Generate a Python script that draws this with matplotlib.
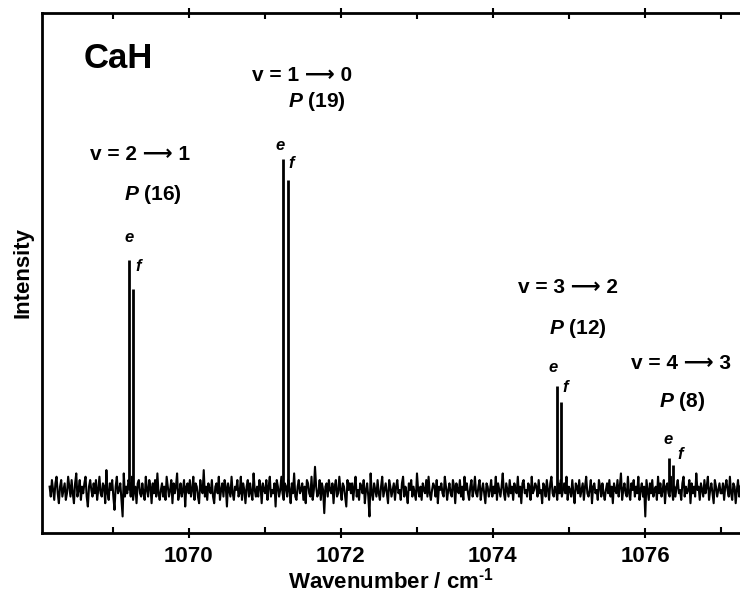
import numpy as np
import matplotlib
matplotlib.use("Agg")
import matplotlib.pyplot as plt
from matplotlib.ticker import MultipleLocator

plt.rcParams['font.family'] = ['Liberation Sans', 'DejaVu Sans']
plt.rcParams['font.weight'] = 'bold'
plt.rcParams['axes.labelweight'] = 'bold'
plt.rcParams['mathtext.fontset'] = 'custom'
plt.rcParams['mathtext.rm'] = 'Liberation Sans:bold'
plt.rcParams['mathtext.bf'] = 'Liberation Sans:bold'
plt.rcParams['mathtext.it'] = 'Liberation Sans:bold:italic'

# peak positions (cm-1) and heights (relative intensity), e and f components
peak_e_pos = [1069.21, 1071.24, 1074.84, 1076.32]
peak_f_pos = [1069.27, 1071.30, 1074.90, 1076.37]
peak_e_h = [0.695, 1.000, 0.314, 0.097]
peak_f_h = [0.607, 0.937, 0.266, 0.076]
band_labels = ["v = 2 \u27f6 1", "v = 1 \u27f6 0", "v = 3 \u27f6 2", "v = 4 \u27f6 3"]
line_labels = [r"$P$ (16)", r"$P$ (19)", r"$P$ (12)", r"$P$ (8)"]

# baseline noise, in units of 0.01 intensity
x_start, x_end = 1068.17, 1077.30
noise = [
    1,-2,3,0,-3,2,4,-1,-4,1,3,-2,0,2,-3,-1,4,1,-2,3,
    -1,-4,2,5,-2,0,3,-3,1,-1,2,4,-2,-5,1,3,0,-2,2,-1,
    3,-3,0,4,-1,-2,2,1,-4,6,-1,-3,2,0,3,-2,-6,1,4,-1,
    0,2,-3,-8,5,-2,1,-1,3,2,-2,4,-3,0,1,-4,2,3,-1,-2,
    2,-1,-3,4,0,-2,3,1,-4,2,-1,3,-2,5,-1,-3,0,2,-2,1,
    -3,4,1,-2,0,3,-4,2,-1,1,5,-3,-1,2,-2,0,3,-5,1,2,
    -1,3,-2,0,4,-3,2,1,-2,-4,3,0,-1,6,-2,1,-3,2,0,-1,
    3,-2,-4,1,2,-1,4,-3,0,2,-2,3,1,-5,2,0,-2,4,-1,-3,
    1,0,3,-2,-1,4,-3,2,0,-4,1,3,-2,2,-1,-3,5,0,-2,1,
    -2,3,1,-4,2,0,-1,3,-3,1,4,-2,0,-1,2,-5,3,1,-2,0,
    4,-1,-3,2,1,-2,3,0,-4,2,-1,5,-2,-3,1,3,-1,0,2,-3,
    1,-4,3,2,-1,-2,4,-3,0,7,1,-2,-1,3,-3,2,0,-7,1,2,
    -2,3,0,-1,2,-4,1,3,-2,-1,4,0,-3,2,1,-2,-5,3,0,2,
    -1,2,-3,1,4,-2,0,-3,2,1,-1,3,-4,0,2,-2,-8,5,-1,-3,
    2,0,-2,3,-1,-3,1,4,-2,0,2,-1,-4,3,1,-2,0,2,-3,1,
    3,-1,0,-3,2,4,-2,1,-1,-4,2,0,3,-2,1,-1,-3,5,0,-2,
    1,-3,2,0,-1,3,-2,4,-1,-3,0,2,1,-2,3,-4,1,0,2,-1,
    -2,4,1,-3,0,2,-1,-2,3,1,-4,2,0,-1,3,-2,1,-3,4,0,
    2,-1,-3,1,3,-2,0,4,-1,-2,1,3,-3,0,2,-1,-4,2,1,-2,
    0,3,-2,1,-1,4,-3,2,0,-2,1,5,-1,-3,2,0,-2,3,-1,1,
    -3,2,0,-1,4,-2,1,-4,2,3,-1,0,-2,2,1,-3,4,-1,0,2,
    1,-2,3,-1,0,-4,2,1,-2,3,0,-3,2,4,-1,-2,1,0,-3,2,
    -1,3,-2,0,2,-1,4,-3,1,0,-2,3,-1,-4,2,1,-1,3,-2,0,
    2,-3,1,4,-1,-2,0,3,-4,1,2,-1,0,-3,3,1,-2,2,-1,-3,
    0,2,-1,3,-2,1,-4,2,0,-1,3,-2,1,5,-3,0,2,-1,-2,4,
    -1,-3,2,0,3,-2,1,-1,4,-3,0,2,-2,1,-8,3,0,-3,2,-1,
    3,-2,0,1,-3,4,-1,2,-2,0,3,-4,1,2,-1,-2,4,0,-3,1,
    -2,1,3,-1,0,-3,2,4,-2,1,-1,0,3,-4,2,-1,1,-2,5,0,
    1,-3,2,0,-2,3,-1,1,4,-3,0,2,-1,-4,3,1,-2,0,2,-1,
    -1,2,-3,1,3,0,-2,4,-1,-3,2,1,-4,0,3,-2,1,2,-1,0,
]

# text placement (data coords)
band_xy = [(1069.36, 1.012), (1071.49, 1.251), (1074.99, 0.613), (1076.48, 0.381)]
line_xy = [(1069.53, 0.894), (1071.68, 1.175), (1075.12, 0.489), (1076.49, 0.266)]
e_xy = [(1069.21, 0.764), (1071.20, 1.042), (1074.79, 0.369), (1076.31, 0.151)]
f_xy = [(1069.33, 0.674), (1071.35, 0.985), (1074.95, 0.311), (1076.46, 0.106)]

fig = plt.figure(figsize=(7.4, 5.94), dpi=100)
ax = fig.add_axes([42/740, 1 - 533/594, 1 - 42/740, (533 - 13)/594])

xn = np.linspace(x_start, x_end, len(noise))
ax.plot(xn, np.array(noise) * 0.01, color='black', lw=1.5)
ax.vlines(peak_e_pos, 0, peak_e_h, color='black', lw=2)
ax.vlines(peak_f_pos, 0, peak_f_h, color='black', lw=2)

for i in range(4):
    ax.text(*band_xy[i], band_labels[i], fontsize=15, ha='center', va='center')
    ax.text(*line_xy[i], line_labels[i], fontsize=15, ha='center', va='center')
    ax.text(*e_xy[i], "e", fontsize=12, style='italic', ha='center', va='center')
    ax.text(*f_xy[i], "f", fontsize=12, style='italic', ha='center', va='center')

ax.text(1069.07, 1.305, "CaH", fontsize=25, ha='center', va='center')

ax.set_xlim(1068.07, 1077.25)
ax.set_ylim(-0.13, 1.441)
ax.xaxis.set_major_locator(MultipleLocator(2))
ax.xaxis.set_minor_locator(MultipleLocator(1))
ax.set_yticks([])
ax.tick_params(axis='x', which='major', direction='inout', length=7, width=1.5,
               labelsize=16, top=True, pad=6)
ax.tick_params(axis='x', which='minor', direction='in', length=4, width=1.5, top=True)
for lab in ax.get_xticklabels():
    lab.set_fontweight('bold')
for s in ['left', 'bottom', 'top']:
    ax.spines[s].set_linewidth(2)
ax.spines['right'].set_visible(False)

ax.set_xlabel(r"Wavenumber / cm$^{\text{-1}}$", fontsize=16, labelpad=0)
ax.set_ylabel("Intensity", fontsize=16, labelpad=6)

fig.savefig("out.png", dpi=100)
